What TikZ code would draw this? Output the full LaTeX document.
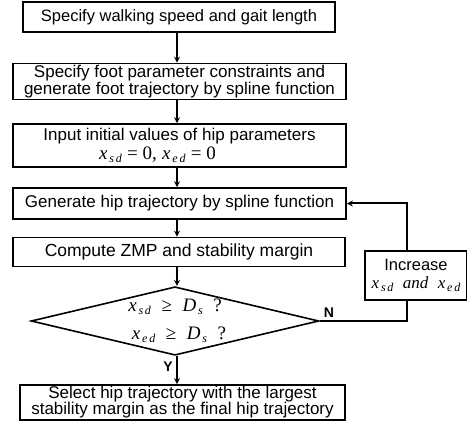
\documentclass[tikz,border=0pt]{standalone}
\usepackage{fontspec}
\setmainfont{Liberation Sans}
\newfontfamily\tms{Liberation Serif}
\usetikzlibrary{shapes.geometric,arrows.meta}
% italic Times variable with a spaced-out subscript
\newcommand{\tvar}[3]{{\tms\itshape #1}\kern1.8pt\raisebox{-0.35ex}{\tms\itshape\fontsize{12}{12}\selectfont #2\kern1.8pt#3}}
\newcommand{\tsub}[2]{{\tms\itshape #1}\kern1.8pt\raisebox{-0.35ex}{\tms\itshape\fontsize{12}{12}\selectfont #2}}
\newcommand{\tsym}[1]{{\tms #1}}
\begin{document}
\begin{tikzpicture}[x=1pt,y=-1pt,
  box/.style={draw,line width=1.6pt,rectangle,inner sep=0pt,align=center,
    font=\fontsize{17}{15.5}\selectfont},
  arr/.style={line width=2pt,-{Stealth[length=6pt,width=6pt]}},
  link/.style={line width=1.8pt},
  lbl/.style={font=\fontsize{14}{14}\selectfont\bfseries,inner sep=0pt}]
\useasboundingbox (0,0) rectangle (467,422);

\node[box,minimum width=312pt,minimum height=30pt,font=\fontsize{16.5}{15.5}\selectfont]
  (b1) at (179,17) {Specify walking speed and gait length};
\node[box,minimum width=333pt,minimum height=36pt] (b2) at (179.5,81.5)
  {Specify foot parameter constraints and\\generate foot trajectory by spline function};
\node[box,minimum width=333pt,minimum height=43pt] (b3) at (179.5,145.5)
  {Input initial values of hip parameters\\[2pt]
   {\fontsize{19}{19}\selectfont\tvar{x}{s}{d}\ \tsym{=\ 0,}\ \tvar{x}{e}{d}\ \tsym{=\ 0}}\hspace*{44pt}};
\node[box,minimum width=333pt,minimum height=31pt] (b4) at (179.5,203.5)
  {Generate hip trajectory by spline function};
\node[box,minimum width=332pt,minimum height=29pt,font=\fontsize{17.5}{15.5}\selectfont]
  (b5) at (179,252) {Compute ZMP and stability margin};
\node[draw,line width=1.6pt,diamond,aspect=4.2,inner sep=0pt,
  minimum width=286pt,minimum height=68pt,align=center,
  font=\fontsize{19}{28}\selectfont] (dm) at (175,321)
  {\tvar{x}{s}{d}\ \ \tsym{≥}\ \ \tsub{D}{s}\ \ \tsym{?}\\
   \hspace*{8pt}\tvar{x}{e}{d}\ \ \tsym{≥}\ \ \tsub{D}{s}\ \ \tsym{?}};
\node[box,minimum width=102pt,minimum height=49pt,font=\fontsize{16.5}{15.5}\selectfont]
  (inc) at (416,275.5)
  {Increase\\[3pt]{\fontsize{17}{17}\selectfont\tvar{x}{s}{d}\ \ {\tms\itshape and}\ \ \tvar{x}{e}{d}}};
\node[box,minimum width=325pt,minimum height=35pt,font=\fontsize{17}{16}\selectfont]
  (b6) at (182.5,402.5)
  {Select hip trajectory with the largest\\stability margin as the final hip trajectory};

% main column of arrows
\coordinate (ax) at (177,0);
\draw[arr] (b1.south -| ax) -- (b2.north -| ax);
\draw[arr] (b2.south -| ax) -- (b3.north -| ax);
\draw[arr] (b3.south -| ax) -- (b4.north -| ax);
\draw[arr] (b4.south -| ax) -- (b5.north -| ax);
\draw[arr] (b5.south -| ax) -- (dm.north -| ax);
\draw[arr] (dm.south -| ax) -- (b6.north -| ax);

% feedback loop
\coordinate (lx) at (407,0);
\draw[link] (dm.east) -- (dm.east -| lx) -- (inc.south -| lx);
\draw[arr] (inc.north -| lx) |- (b4.east);

\node[lbl] (nl) at (329,313) {N};
\node[lbl] (yl) at (168,367) {Y};
\end{tikzpicture}
\end{document}
